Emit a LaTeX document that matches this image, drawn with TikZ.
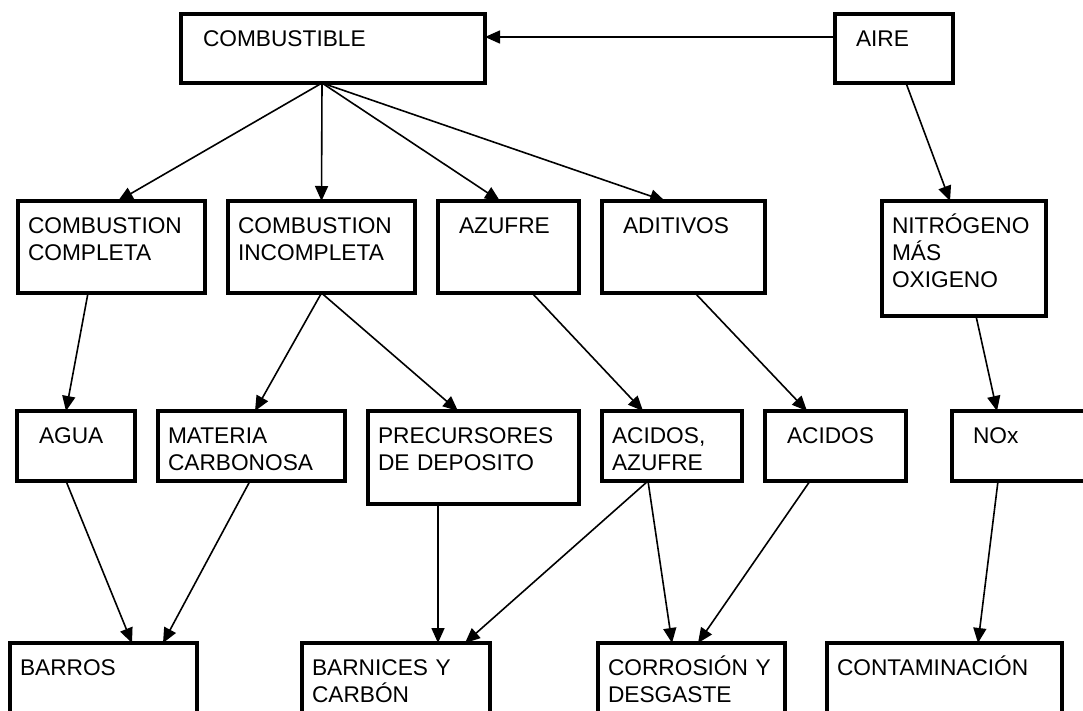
\documentclass[tikz,border=0pt]{standalone}
\usepackage{fontspec}
\setmainfont{Liberation Sans}
\usetikzlibrary{arrows.meta}
\newcommand{\boxfont}{\fontsize{22.7pt}{27pt}\selectfont}
\tikzset{
    box_node/.style n args={3}{rectangle, draw=black, line width=4pt, anchor=north west,
        outer sep=0pt, inner sep=0pt, align=left, font=\boxfont,
        text width=#1pt, text height=32pt, text depth=#2pt,
        execute at begin node={\leftskip=#3pt}},
    link/.style = {->, line width=1.6pt}
}

\begin{document}
\begin{tikzpicture}
    [x=1pt, y=-1pt, >={Triangle[length=15pt,width=13pt]}]

    \useasboundingbox (0,0) rectangle (1083,710);
    \clip (0,0) rectangle (1083,710);

    % top
    \node [box_node={304}{37}{22}] (comb) at (181,14) {COMBUSTIBLE};
    \node [box_node={118}{37}{21}] (aire) at (835,14) {AIRE};

    % second row
    \node [box_node={187}{60}{10}] (completa) at (18,201) {COMBUSTION\\COMPLETA};
    \node [box_node={187}{60}{10}] (incompleta) at (228,201) {COMBUSTION\\INCOMPLETA};
    \node [box_node={141}{60}{21}] (azufre) at (438,201) {AZUFRE};
    \node [box_node={163}{60}{21}] (aditivos) at (602,201) {ADITIVOS};
    \node [box_node={164}{83}{10}] (nitro) at (882,201) {NITRÓGENO\\MÁS\\OXIGENO};

    % third row
    \node [box_node={118}{38}{22}] (agua) at (17,411) {AGUA};
    \node [box_node={187}{38}{10}] (materia) at (158,411) {MATERIA\\CARBONOSA};
    \node [box_node={211}{61}{10}] (precursores) at (368,411) {PRECURSORES\\DE DEPOSITO};
    \node [box_node={140}{38}{10}] (acidaz) at (602,411) {ACIDOS,\\AZUFRE};
    \node [box_node={141}{38}{22}] (acidos) at (765,411) {ACIDOS};
    \node [box_node={160}{38}{21}] (nox) at (952,411) {NOx};

    % bottom row
    \node [box_node={187}{80}{10}] (barros) at (10,643) {BARROS};
    \node [box_node={188}{80}{10}] (barnices) at (302,643) {BARNICES Y\\CARBÓN};
    \node [box_node={187}{80}{10}] (corrosion) at (598,643) {CORROSIÓN Y\\DESGASTE};
    \node [box_node={235}{80}{10}] (contam) at (827,643) {CONTAMINACIÓN};

    \draw [link] ([yshift=11.5pt]aire.west) -- ([yshift=11.5pt]comb.east);
    \draw [link] ([xshift=12pt]aire.south) -- ([xshift=-14pt]nitro.north);

    \draw [link] ([xshift=-11pt]comb.south) -- ([xshift=6.5pt]completa.north);
    \draw [link] ([xshift=-11pt]comb.south) -- (incompleta.north);
    \draw [link] ([xshift=-11pt]comb.south) -- ([xshift=-8.5pt]azufre.north);
    \draw [link] ([xshift=-11pt]comb.south) -- ([xshift=-18.5pt]aditivos.north);

    \draw [link] ([xshift=-23.5pt]completa.south) -- ([xshift=-10pt]agua.north);
    \draw [link] (incompleta.south) -- ([xshift=3.5pt]materia.north);
    \draw [link] (incompleta.south) -- ([xshift=-15.5pt]precursores.north);
    \draw [link] ([xshift=23.5pt]azufre.south) -- ([xshift=-29pt]acidaz.north);
    \draw [link] ([xshift=11.5pt]aditivos.south) -- ([xshift=-28.5pt]acidos.north);
    \draw [link] ([xshift=12pt]nitro.south) -- ([xshift=45pt]nox.north west);

    \draw [link] ([xshift=-10pt]agua.south) -- ([xshift=28.5pt]barros.north);
    \draw [link] ([xshift=-1.5pt]materia.south) -- ([xshift=59.5pt]barros.north);
    \draw [link] ([xshift=-35.5pt]precursores.south) -- ([xshift=42pt]barnices.north);
    \draw [link] ([xshift=-24pt]acidaz.south) -- ([xshift=69pt]barnices.north);
    \draw [link] ([xshift=-24pt]acidaz.south) -- ([xshift=-19.5pt]corrosion.north);
    \draw [link] ([xshift=-25.5pt]acidos.south) -- ([xshift=6.5pt]corrosion.north);
    \draw [link] ([xshift=46pt]nox.south west) -- ([xshift=33.5pt]contam.north);
\end{tikzpicture}
\end{document}
